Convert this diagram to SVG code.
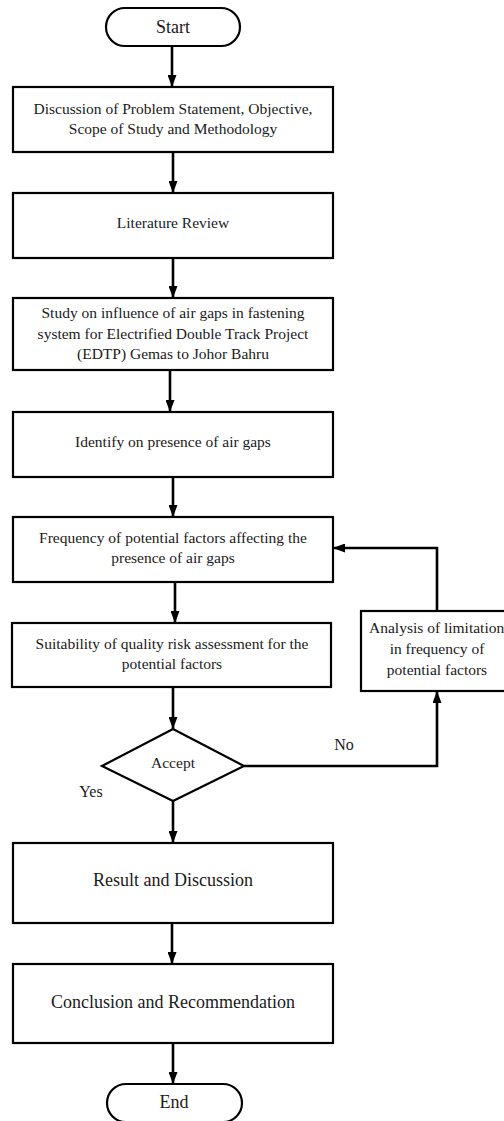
<svg xmlns="http://www.w3.org/2000/svg" width="504" height="1121" viewBox="0 0 504 1121">
<defs>
<marker id="ah" viewBox="0 0 12 9" refX="12" refY="4.5" markerWidth="12" markerHeight="9" markerUnits="userSpaceOnUse" orient="auto">
<path d="M0,0 L12,4.5 L0,9 Z" fill="#000"/>
</marker>
<style>
.box{fill:#fff;stroke:#000;stroke-width:2.2}
.t{font-family:'Liberation Serif','Times New Roman',Times,'DejaVu Serif',serif;font-size:15.5px;fill:#1a1a1a;text-anchor:middle}
.tl{font-family:'Liberation Serif','Times New Roman',Times,'DejaVu Serif',serif;font-size:18px;fill:#1a1a1a;text-anchor:middle}
.c{fill:none;stroke:#000;stroke-width:2.6}
</style>
</defs>
<rect width="504" height="1121" fill="#fff"/>
<g id="connectors">
<line class="c" x1="172" y1="46" x2="172" y2="87" marker-end="url(#ah)"/>
<line class="c" x1="173" y1="152" x2="173" y2="193" marker-end="url(#ah)"/>
<line class="c" x1="173" y1="258" x2="173" y2="298" marker-end="url(#ah)"/>
<line class="c" x1="170" y1="370" x2="170" y2="412" marker-end="url(#ah)"/>
<line class="c" x1="173" y1="477" x2="173" y2="517" marker-end="url(#ah)"/>
<line class="c" x1="175" y1="582" x2="175" y2="623" marker-end="url(#ah)"/>
<line class="c" x1="173" y1="687" x2="173" y2="729" marker-end="url(#ah)"/>
<line class="c" x1="173" y1="801" x2="173" y2="843" marker-end="url(#ah)"/>
<line class="c" x1="172" y1="923" x2="172" y2="964" marker-end="url(#ah)"/>
<line class="c" x1="173" y1="1043" x2="173" y2="1084" marker-end="url(#ah)"/>
<polyline class="c" points="244,766 437,766 437,691" marker-end="url(#ah)"/>
<polyline class="c" points="437,611 437,548 333,548" marker-end="url(#ah)"/>
</g>
<g id="start">
<rect class="box" x="106" y="8" width="134" height="38" rx="19"/>
<text class="tl" x="173" y="33" font-family="Liberation Serif, serif">Start</text>
</g>
<g id="discussion">
<rect class="box" x="13" y="87" width="320" height="65"/>
<text class="t" x="173" y="114">Discussion of Problem Statement, Objective,</text>
<text class="t" x="173" y="134">Scope of Study and Methodology</text>
</g>
<g id="literature">
<rect class="box" x="13" y="193" width="320" height="65"/>
<text class="t" x="173" y="228">Literature Review</text>
</g>
<g id="study">
<rect class="box" x="13" y="298" width="320" height="72"/>
<text class="t" x="173" y="318">Study on influence of air gaps in fastening</text>
<text class="t" x="173" y="338.5">system for Electrified Double Track Project</text>
<text class="t" x="173" y="359">(EDTP) Gemas to Johor Bahru</text>
</g>
<g id="identify">
<rect class="box" x="13" y="412" width="320" height="65"/>
<text class="t" x="173" y="447">Identify on presence of air gaps</text>
</g>
<g id="frequency">
<rect class="box" x="13" y="517" width="320" height="65"/>
<text class="t" x="173" y="543">Frequency of potential factors affecting the</text>
<text class="t" x="173" y="563">presence of air gaps</text>
</g>
<g id="suitability">
<rect class="box" x="12" y="623" width="319" height="64"/>
<text class="t" x="172" y="649">Suitability of quality risk assessment for the</text>
<text class="t" x="172" y="669">potential factors</text>
</g>
<g id="analysis">
<rect class="box" x="361" y="611" width="156" height="80"/>
<text class="t" x="369" y="633" style="text-anchor:start">Analysis of limitation</text>
<text class="t" x="437" y="654">in frequency of</text>
<text class="t" x="437" y="675">potential factors</text>
</g>
<g id="accept">
<polygon class="box" points="173,729 244,766 173,801 102,766"/>
<text class="t" x="173" y="768">Accept</text>
</g>
<g id="labels">
<text class="t" x="344" y="750" style="font-size:16px">No</text>
<text class="t" x="91" y="797" style="font-size:16px">Yes</text>
</g>
<g id="result">
<rect class="box" x="13" y="843" width="320" height="80"/>
<text class="tl" x="173" y="886">Result and Discussion</text>
</g>
<g id="conclusion">
<rect class="box" x="13" y="964" width="320" height="79"/>
<text class="tl" x="173" y="1008">Conclusion and Recommendation</text>
</g>
<g id="end">
<rect class="box" x="107" y="1084" width="135" height="38" rx="19"/>
<text class="tl" x="174" y="1108">End</text>
</g>
</svg>
